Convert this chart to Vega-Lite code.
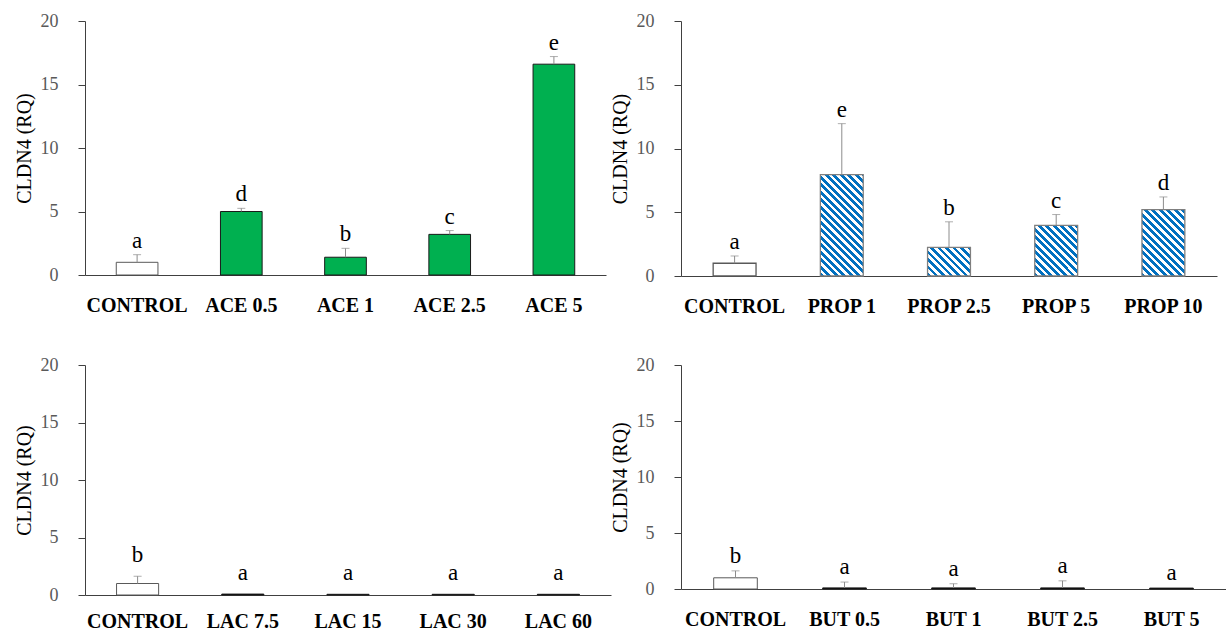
{
  "$schema": "https://vega.github.io/schema/vega-lite/v6.json",
  "padding": {"left": 14, "top": 12, "right": 0, "bottom": 0},
  "background": "#ffffff",
  "datasets": {
    "ace": [
      {"group": "CONTROL", "value": 1.0, "upper": 1.6, "letter": "a"},
      {"group": "ACE 0.5", "value": 5.0, "upper": 5.25, "letter": "d"},
      {"group": "ACE 1", "value": 1.4, "upper": 2.1, "letter": "b"},
      {"group": "ACE 2.5", "value": 3.2, "upper": 3.5, "letter": "c"},
      {"group": "ACE 5", "value": 16.6, "upper": 17.2, "letter": "e"}
    ],
    "prop": [
      {"group": "CONTROL", "value": 1.0, "upper": 1.57, "letter": "a"},
      {"group": "PROP 1", "value": 7.95, "upper": 11.95, "letter": "e"},
      {"group": "PROP 2.5", "value": 2.25, "upper": 4.25, "letter": "b"},
      {"group": "PROP 5", "value": 3.97, "upper": 4.82, "letter": "c"},
      {"group": "PROP 10", "value": 5.2, "upper": 6.2, "letter": "d"}
    ],
    "lac": [
      {"group": "CONTROL", "value": 1.0, "upper": 1.63, "letter": "b"},
      {"group": "LAC 7.5", "value": 0.08, "upper": 0.08, "letter": "a"},
      {"group": "LAC 15", "value": 0.06, "upper": 0.06, "letter": "a"},
      {"group": "LAC 30", "value": 0.06, "upper": 0.06, "letter": "a"},
      {"group": "LAC 60", "value": 0.06, "upper": 0.06, "letter": "a"}
    ],
    "but": [
      {"group": "CONTROL", "value": 1.0, "upper": 1.62, "letter": "b"},
      {"group": "BUT 0.5", "value": 0.1, "upper": 0.62, "letter": "a"},
      {"group": "BUT 1", "value": 0.1, "upper": 0.47, "letter": "a"},
      {"group": "BUT 2.5", "value": 0.1, "upper": 0.73, "letter": "a"},
      {"group": "BUT 5", "value": 0.08, "upper": 0.08, "letter": "a"}
    ]
  },
  "columns": 2,
  "align": "each",
  "bounds": "flush",
  "spacing": {"row": 89, "column": 70},
  "concat": [
    {
      "width": 521, "height": 254,
      "data": {"name": "ace"},
      "encoding": {"x": {"field": "group", "type": "nominal", "sort": null, "title": null, "scale": {"paddingInner": 0.6, "paddingOuter": 0.3}, "axis": {"labelPadding": 20}}},
      "layer": [
        {"mark": {"type": "bar", "strokeWidth": 1},
         "encoding": {
           "y": {"field": "value", "type": "quantitative", "title": "CLDN4 (RQ)", "scale": {"domain": [0, 20], "nice": false}, "axis": {"values": [0, 5, 10, 15, 20]}},
           "fill": {"condition": {"test": "datum.group === 'CONTROL'", "value": "#ffffff"}, "value": "#00b050"},
           "stroke": {"condition": {"test": "datum.group === 'CONTROL'", "value": "#595959"}, "value": "#1a1a1a"}}},
        {"transform": [{"filter": "datum.upper > datum.value"}], "mark": {"type": "rule", "color": "#8c8c8c", "strokeWidth": 1},
         "encoding": {"y": {"field": "value", "type": "quantitative", "title": "CLDN4 (RQ)"}, "y2": {"field": "upper"}}},
        {"transform": [{"filter": "datum.upper > datum.value"}], "mark": {"type": "tick", "color": "#8c8c8c", "size": 8, "thickness": 1},
         "encoding": {"y": {"field": "upper", "type": "quantitative", "title": "CLDN4 (RQ)"}}},
        {"mark": {"type": "text", "dy": -7, "baseline": "alphabetic", "fontSize": 23, "font": "Liberation Serif", "color": "#000000"},
         "encoding": {"y": {"field": "upper", "type": "quantitative", "title": "CLDN4 (RQ)"}, "text": {"field": "letter"}}}
      ]
    },
    {
      "width": 536, "height": 255,
      "data": {"name": "prop"},
      "encoding": {"x": {"field": "group", "type": "nominal", "sort": null, "title": null, "scale": {"paddingInner": 0.6, "paddingOuter": 0.3}, "axis": {"labelPadding": 20}}},
      "layer": [
        {"mark": {"type": "bar", "strokeWidth": 1.3},
         "encoding": {
           "y": {"field": "value", "type": "quantitative", "title": "CLDN4 (RQ)", "scale": {"domain": [0, 20], "nice": false}, "axis": {"values": [0, 5, 10, 15, 20]}},
           "fill": {"condition": [
             {"test": "datum.group === 'PROP 1'", "value": {"gradient": "linear", "x1": 0, "y1": 1, "x2": 0.5308, "y2": -0.2547, "stops": [{"offset":0,"color":"#0070c0"},{"offset":0.025,"color":"#0070c0"},{"offset":0.025,"color":"#ffffff"},{"offset":0.05,"color":"#ffffff"},{"offset":0.05,"color":"#0070c0"},{"offset":0.075,"color":"#0070c0"},{"offset":0.075,"color":"#ffffff"},{"offset":0.1,"color":"#ffffff"},{"offset":0.1,"color":"#0070c0"},{"offset":0.125,"color":"#0070c0"},{"offset":0.125,"color":"#ffffff"},{"offset":0.15,"color":"#ffffff"},{"offset":0.15,"color":"#0070c0"},{"offset":0.175,"color":"#0070c0"},{"offset":0.175,"color":"#ffffff"},{"offset":0.2,"color":"#ffffff"},{"offset":0.2,"color":"#0070c0"},{"offset":0.225,"color":"#0070c0"},{"offset":0.225,"color":"#ffffff"},{"offset":0.25,"color":"#ffffff"},{"offset":0.25,"color":"#0070c0"},{"offset":0.275,"color":"#0070c0"},{"offset":0.275,"color":"#ffffff"},{"offset":0.3,"color":"#ffffff"},{"offset":0.3,"color":"#0070c0"},{"offset":0.325,"color":"#0070c0"},{"offset":0.325,"color":"#ffffff"},{"offset":0.35,"color":"#ffffff"},{"offset":0.35,"color":"#0070c0"},{"offset":0.375,"color":"#0070c0"},{"offset":0.375,"color":"#ffffff"},{"offset":0.4,"color":"#ffffff"},{"offset":0.4,"color":"#0070c0"},{"offset":0.425,"color":"#0070c0"},{"offset":0.425,"color":"#ffffff"},{"offset":0.45,"color":"#ffffff"},{"offset":0.45,"color":"#0070c0"},{"offset":0.475,"color":"#0070c0"},{"offset":0.475,"color":"#ffffff"},{"offset":0.5,"color":"#ffffff"},{"offset":0.5,"color":"#0070c0"},{"offset":0.525,"color":"#0070c0"},{"offset":0.525,"color":"#ffffff"},{"offset":0.55,"color":"#ffffff"},{"offset":0.55,"color":"#0070c0"},{"offset":0.575,"color":"#0070c0"},{"offset":0.575,"color":"#ffffff"},{"offset":0.6,"color":"#ffffff"},{"offset":0.6,"color":"#0070c0"},{"offset":0.625,"color":"#0070c0"},{"offset":0.625,"color":"#ffffff"},{"offset":0.65,"color":"#ffffff"},{"offset":0.65,"color":"#0070c0"},{"offset":0.675,"color":"#0070c0"},{"offset":0.675,"color":"#ffffff"},{"offset":0.7,"color":"#ffffff"},{"offset":0.7,"color":"#0070c0"},{"offset":0.725,"color":"#0070c0"},{"offset":0.725,"color":"#ffffff"},{"offset":0.75,"color":"#ffffff"},{"offset":0.75,"color":"#0070c0"},{"offset":0.775,"color":"#0070c0"},{"offset":0.775,"color":"#ffffff"},{"offset":0.8,"color":"#ffffff"},{"offset":0.8,"color":"#0070c0"},{"offset":0.825,"color":"#0070c0"},{"offset":0.825,"color":"#ffffff"},{"offset":0.85,"color":"#ffffff"},{"offset":0.85,"color":"#0070c0"},{"offset":0.875,"color":"#0070c0"},{"offset":0.875,"color":"#ffffff"},{"offset":0.9,"color":"#ffffff"},{"offset":0.9,"color":"#0070c0"},{"offset":0.925,"color":"#0070c0"},{"offset":0.925,"color":"#ffffff"},{"offset":0.95,"color":"#ffffff"},{"offset":0.95,"color":"#0070c0"},{"offset":0.975,"color":"#0070c0"},{"offset":0.975,"color":"#ffffff"},{"offset":1,"color":"#ffffff"}]}},
             {"test": "datum.group === 'PROP 2.5'", "value": {"gradient": "linear", "x1": 0, "y1": 1, "x2": 2.4155, "y2": -0.6161, "stops": [{"offset":0,"color":"#0070c0"},{"offset":0.025,"color":"#0070c0"},{"offset":0.025,"color":"#ffffff"},{"offset":0.05,"color":"#ffffff"},{"offset":0.05,"color":"#0070c0"},{"offset":0.075,"color":"#0070c0"},{"offset":0.075,"color":"#ffffff"},{"offset":0.1,"color":"#ffffff"},{"offset":0.1,"color":"#0070c0"},{"offset":0.125,"color":"#0070c0"},{"offset":0.125,"color":"#ffffff"},{"offset":0.15,"color":"#ffffff"},{"offset":0.15,"color":"#0070c0"},{"offset":0.175,"color":"#0070c0"},{"offset":0.175,"color":"#ffffff"},{"offset":0.2,"color":"#ffffff"},{"offset":0.2,"color":"#0070c0"},{"offset":0.225,"color":"#0070c0"},{"offset":0.225,"color":"#ffffff"},{"offset":0.25,"color":"#ffffff"},{"offset":0.25,"color":"#0070c0"},{"offset":0.275,"color":"#0070c0"},{"offset":0.275,"color":"#ffffff"},{"offset":0.3,"color":"#ffffff"},{"offset":0.3,"color":"#0070c0"},{"offset":0.325,"color":"#0070c0"},{"offset":0.325,"color":"#ffffff"},{"offset":0.35,"color":"#ffffff"},{"offset":0.35,"color":"#0070c0"},{"offset":0.375,"color":"#0070c0"},{"offset":0.375,"color":"#ffffff"},{"offset":0.4,"color":"#ffffff"},{"offset":0.4,"color":"#0070c0"},{"offset":0.425,"color":"#0070c0"},{"offset":0.425,"color":"#ffffff"},{"offset":0.45,"color":"#ffffff"},{"offset":0.45,"color":"#0070c0"},{"offset":0.475,"color":"#0070c0"},{"offset":0.475,"color":"#ffffff"},{"offset":0.5,"color":"#ffffff"},{"offset":0.5,"color":"#0070c0"},{"offset":0.525,"color":"#0070c0"},{"offset":0.525,"color":"#ffffff"},{"offset":0.55,"color":"#ffffff"},{"offset":0.55,"color":"#0070c0"},{"offset":0.575,"color":"#0070c0"},{"offset":0.575,"color":"#ffffff"},{"offset":0.6,"color":"#ffffff"},{"offset":0.6,"color":"#0070c0"},{"offset":0.625,"color":"#0070c0"},{"offset":0.625,"color":"#ffffff"},{"offset":0.65,"color":"#ffffff"},{"offset":0.65,"color":"#0070c0"},{"offset":0.675,"color":"#0070c0"},{"offset":0.675,"color":"#ffffff"},{"offset":0.7,"color":"#ffffff"},{"offset":0.7,"color":"#0070c0"},{"offset":0.725,"color":"#0070c0"},{"offset":0.725,"color":"#ffffff"},{"offset":0.75,"color":"#ffffff"},{"offset":0.75,"color":"#0070c0"},{"offset":0.775,"color":"#0070c0"},{"offset":0.775,"color":"#ffffff"},{"offset":0.8,"color":"#ffffff"},{"offset":0.8,"color":"#0070c0"},{"offset":0.825,"color":"#0070c0"},{"offset":0.825,"color":"#ffffff"},{"offset":0.85,"color":"#ffffff"},{"offset":0.85,"color":"#0070c0"},{"offset":0.875,"color":"#0070c0"},{"offset":0.875,"color":"#ffffff"},{"offset":0.9,"color":"#ffffff"},{"offset":0.9,"color":"#0070c0"},{"offset":0.925,"color":"#0070c0"},{"offset":0.925,"color":"#ffffff"},{"offset":0.95,"color":"#ffffff"},{"offset":0.95,"color":"#0070c0"},{"offset":0.975,"color":"#0070c0"},{"offset":0.975,"color":"#ffffff"},{"offset":1,"color":"#ffffff"}]}},
             {"test": "datum.group === 'PROP 5'", "value": {"gradient": "linear", "x1": 0, "y1": 1, "x2": 1.4623, "y2": -0.7248, "stops": [{"offset":0,"color":"#0070c0"},{"offset":0.025,"color":"#0070c0"},{"offset":0.025,"color":"#ffffff"},{"offset":0.05,"color":"#ffffff"},{"offset":0.05,"color":"#0070c0"},{"offset":0.075,"color":"#0070c0"},{"offset":0.075,"color":"#ffffff"},{"offset":0.1,"color":"#ffffff"},{"offset":0.1,"color":"#0070c0"},{"offset":0.125,"color":"#0070c0"},{"offset":0.125,"color":"#ffffff"},{"offset":0.15,"color":"#ffffff"},{"offset":0.15,"color":"#0070c0"},{"offset":0.175,"color":"#0070c0"},{"offset":0.175,"color":"#ffffff"},{"offset":0.2,"color":"#ffffff"},{"offset":0.2,"color":"#0070c0"},{"offset":0.225,"color":"#0070c0"},{"offset":0.225,"color":"#ffffff"},{"offset":0.25,"color":"#ffffff"},{"offset":0.25,"color":"#0070c0"},{"offset":0.275,"color":"#0070c0"},{"offset":0.275,"color":"#ffffff"},{"offset":0.3,"color":"#ffffff"},{"offset":0.3,"color":"#0070c0"},{"offset":0.325,"color":"#0070c0"},{"offset":0.325,"color":"#ffffff"},{"offset":0.35,"color":"#ffffff"},{"offset":0.35,"color":"#0070c0"},{"offset":0.375,"color":"#0070c0"},{"offset":0.375,"color":"#ffffff"},{"offset":0.4,"color":"#ffffff"},{"offset":0.4,"color":"#0070c0"},{"offset":0.425,"color":"#0070c0"},{"offset":0.425,"color":"#ffffff"},{"offset":0.45,"color":"#ffffff"},{"offset":0.45,"color":"#0070c0"},{"offset":0.475,"color":"#0070c0"},{"offset":0.475,"color":"#ffffff"},{"offset":0.5,"color":"#ffffff"},{"offset":0.5,"color":"#0070c0"},{"offset":0.525,"color":"#0070c0"},{"offset":0.525,"color":"#ffffff"},{"offset":0.55,"color":"#ffffff"},{"offset":0.55,"color":"#0070c0"},{"offset":0.575,"color":"#0070c0"},{"offset":0.575,"color":"#ffffff"},{"offset":0.6,"color":"#ffffff"},{"offset":0.6,"color":"#0070c0"},{"offset":0.625,"color":"#0070c0"},{"offset":0.625,"color":"#ffffff"},{"offset":0.65,"color":"#ffffff"},{"offset":0.65,"color":"#0070c0"},{"offset":0.675,"color":"#0070c0"},{"offset":0.675,"color":"#ffffff"},{"offset":0.7,"color":"#ffffff"},{"offset":0.7,"color":"#0070c0"},{"offset":0.725,"color":"#0070c0"},{"offset":0.725,"color":"#ffffff"},{"offset":0.75,"color":"#ffffff"},{"offset":0.75,"color":"#0070c0"},{"offset":0.775,"color":"#0070c0"},{"offset":0.775,"color":"#ffffff"},{"offset":0.8,"color":"#ffffff"},{"offset":0.8,"color":"#0070c0"},{"offset":0.825,"color":"#0070c0"},{"offset":0.825,"color":"#ffffff"},{"offset":0.85,"color":"#ffffff"},{"offset":0.85,"color":"#0070c0"},{"offset":0.875,"color":"#0070c0"},{"offset":0.875,"color":"#ffffff"},{"offset":0.9,"color":"#ffffff"},{"offset":0.9,"color":"#0070c0"},{"offset":0.925,"color":"#0070c0"},{"offset":0.925,"color":"#ffffff"},{"offset":0.95,"color":"#ffffff"},{"offset":0.95,"color":"#0070c0"},{"offset":0.975,"color":"#0070c0"},{"offset":0.975,"color":"#ffffff"},{"offset":1,"color":"#ffffff"}]}},
             {"test": "datum.group === 'PROP 10'", "value": {"gradient": "linear", "x1": 0, "y1": 1, "x2": 1.0319, "y2": -0.5948, "stops": [{"offset":0,"color":"#0070c0"},{"offset":0.025,"color":"#0070c0"},{"offset":0.025,"color":"#ffffff"},{"offset":0.05,"color":"#ffffff"},{"offset":0.05,"color":"#0070c0"},{"offset":0.075,"color":"#0070c0"},{"offset":0.075,"color":"#ffffff"},{"offset":0.1,"color":"#ffffff"},{"offset":0.1,"color":"#0070c0"},{"offset":0.125,"color":"#0070c0"},{"offset":0.125,"color":"#ffffff"},{"offset":0.15,"color":"#ffffff"},{"offset":0.15,"color":"#0070c0"},{"offset":0.175,"color":"#0070c0"},{"offset":0.175,"color":"#ffffff"},{"offset":0.2,"color":"#ffffff"},{"offset":0.2,"color":"#0070c0"},{"offset":0.225,"color":"#0070c0"},{"offset":0.225,"color":"#ffffff"},{"offset":0.25,"color":"#ffffff"},{"offset":0.25,"color":"#0070c0"},{"offset":0.275,"color":"#0070c0"},{"offset":0.275,"color":"#ffffff"},{"offset":0.3,"color":"#ffffff"},{"offset":0.3,"color":"#0070c0"},{"offset":0.325,"color":"#0070c0"},{"offset":0.325,"color":"#ffffff"},{"offset":0.35,"color":"#ffffff"},{"offset":0.35,"color":"#0070c0"},{"offset":0.375,"color":"#0070c0"},{"offset":0.375,"color":"#ffffff"},{"offset":0.4,"color":"#ffffff"},{"offset":0.4,"color":"#0070c0"},{"offset":0.425,"color":"#0070c0"},{"offset":0.425,"color":"#ffffff"},{"offset":0.45,"color":"#ffffff"},{"offset":0.45,"color":"#0070c0"},{"offset":0.475,"color":"#0070c0"},{"offset":0.475,"color":"#ffffff"},{"offset":0.5,"color":"#ffffff"},{"offset":0.5,"color":"#0070c0"},{"offset":0.525,"color":"#0070c0"},{"offset":0.525,"color":"#ffffff"},{"offset":0.55,"color":"#ffffff"},{"offset":0.55,"color":"#0070c0"},{"offset":0.575,"color":"#0070c0"},{"offset":0.575,"color":"#ffffff"},{"offset":0.6,"color":"#ffffff"},{"offset":0.6,"color":"#0070c0"},{"offset":0.625,"color":"#0070c0"},{"offset":0.625,"color":"#ffffff"},{"offset":0.65,"color":"#ffffff"},{"offset":0.65,"color":"#0070c0"},{"offset":0.675,"color":"#0070c0"},{"offset":0.675,"color":"#ffffff"},{"offset":0.7,"color":"#ffffff"},{"offset":0.7,"color":"#0070c0"},{"offset":0.725,"color":"#0070c0"},{"offset":0.725,"color":"#ffffff"},{"offset":0.75,"color":"#ffffff"},{"offset":0.75,"color":"#0070c0"},{"offset":0.775,"color":"#0070c0"},{"offset":0.775,"color":"#ffffff"},{"offset":0.8,"color":"#ffffff"},{"offset":0.8,"color":"#0070c0"},{"offset":0.825,"color":"#0070c0"},{"offset":0.825,"color":"#ffffff"},{"offset":0.85,"color":"#ffffff"},{"offset":0.85,"color":"#0070c0"},{"offset":0.875,"color":"#0070c0"},{"offset":0.875,"color":"#ffffff"},{"offset":0.9,"color":"#ffffff"},{"offset":0.9,"color":"#0070c0"},{"offset":0.925,"color":"#0070c0"},{"offset":0.925,"color":"#ffffff"},{"offset":0.95,"color":"#ffffff"},{"offset":0.95,"color":"#0070c0"},{"offset":0.975,"color":"#0070c0"},{"offset":0.975,"color":"#ffffff"},{"offset":1,"color":"#ffffff"}]}}
           ], "value": "#ffffff"},
           "stroke": {"condition": {"test": "datum.group === 'CONTROL'", "value": "#595959"}, "value": "#7f7f7f"}}},
        {"transform": [{"filter": "datum.upper > datum.value"}], "mark": {"type": "rule", "color": "#8c8c8c", "strokeWidth": 1},
         "encoding": {"y": {"field": "value", "type": "quantitative", "title": "CLDN4 (RQ)"}, "y2": {"field": "upper"}}},
        {"transform": [{"filter": "datum.upper > datum.value"}], "mark": {"type": "tick", "color": "#8c8c8c", "size": 8, "thickness": 1},
         "encoding": {"y": {"field": "upper", "type": "quantitative", "title": "CLDN4 (RQ)"}}},
        {"mark": {"type": "text", "dy": -7, "baseline": "alphabetic", "fontSize": 23, "font": "Liberation Serif", "color": "#000000"},
         "encoding": {"y": {"field": "upper", "type": "quantitative", "title": "CLDN4 (RQ)"}, "text": {"field": "letter"}}}
      ]
    },
    {
      "width": 526, "height": 230,
      "data": {"name": "lac"},
      "encoding": {"x": {"field": "group", "type": "nominal", "sort": null, "title": null, "scale": {"paddingInner": 0.6, "paddingOuter": 0.3}, "axis": {"labelPadding": 16}}},
      "layer": [
        {"mark": {"type": "bar", "strokeWidth": 1},
         "encoding": {
           "y": {"field": "value", "type": "quantitative", "title": "CLDN4 (RQ)", "scale": {"domain": [0, 20], "nice": false}, "axis": {"values": [0, 5, 10, 15, 20]}},
           "fill": {"condition": {"test": "datum.group === 'CONTROL'", "value": "#ffffff"}, "value": "#000000"},
           "stroke": {"condition": {"test": "datum.group === 'CONTROL'", "value": "#595959"}, "value": "#1a1a1a"}}},
        {"transform": [{"filter": "datum.upper > datum.value"}], "mark": {"type": "rule", "color": "#8c8c8c", "strokeWidth": 1},
         "encoding": {"y": {"field": "value", "type": "quantitative", "title": "CLDN4 (RQ)"}, "y2": {"field": "upper"}}},
        {"transform": [{"filter": "datum.upper > datum.value"}], "mark": {"type": "tick", "color": "#8c8c8c", "size": 8, "thickness": 1},
         "encoding": {"y": {"field": "upper", "type": "quantitative", "title": "CLDN4 (RQ)"}}},
        {"mark": {"type": "text", "dy": -14, "baseline": "alphabetic", "fontSize": 23, "font": "Liberation Serif", "color": "#000000"},
         "encoding": {"y": {"field": "upper", "type": "quantitative", "title": "CLDN4 (RQ)"}, "text": {"field": "letter"}}}
      ]
    },
    {
      "width": 545, "height": 224,
      "data": {"name": "but"},
      "encoding": {"x": {"field": "group", "type": "nominal", "sort": null, "title": null, "scale": {"paddingInner": 0.6, "paddingOuter": 0.3}, "axis": {"labelPadding": 20}}},
      "layer": [
        {"mark": {"type": "bar", "strokeWidth": 1},
         "encoding": {
           "y": {"field": "value", "type": "quantitative", "title": "CLDN4 (RQ)", "scale": {"domain": [0, 20], "nice": false}, "axis": {"values": [0, 5, 10, 15, 20]}},
           "fill": {"condition": {"test": "datum.group === 'CONTROL'", "value": "#ffffff"}, "value": "#000000"},
           "stroke": {"condition": {"test": "datum.group === 'CONTROL'", "value": "#595959"}, "value": "#1a1a1a"}}},
        {"transform": [{"filter": "datum.upper > datum.value"}], "mark": {"type": "rule", "color": "#8c8c8c", "strokeWidth": 1},
         "encoding": {"y": {"field": "value", "type": "quantitative", "title": "CLDN4 (RQ)"}, "y2": {"field": "upper"}}},
        {"transform": [{"filter": "datum.upper > datum.value"}], "mark": {"type": "tick", "color": "#8c8c8c", "size": 8, "thickness": 1},
         "encoding": {"y": {"field": "upper", "type": "quantitative", "title": "CLDN4 (RQ)"}}},
        {"mark": {"type": "text", "dy": -8, "baseline": "alphabetic", "fontSize": 23, "font": "Liberation Serif", "color": "#000000"},
         "encoding": {"y": {"field": "upper", "type": "quantitative", "title": "CLDN4 (RQ)"}, "text": {"field": "letter"}}}
      ]
    }
  ],
  "config": {
    "view": {"stroke": null},
    "font": "Liberation Serif",
    "axis": {"grid": false},
    "axisX": {"domainColor": "#404040", "domainWidth": 1, "ticks": false, "labelFont": "Liberation Serif", "labelFontWeight": "bold", "labelFontSize": 20, "labelColor": "#000000", "labelAngle": 0, "labelOverlap": false},
    "axisY": {"domainColor": "#404040", "tickColor": "#404040", "tickSize": 7, "labelColor": "#595959", "labelFont": "Liberation Serif", "labelFontSize": 18, "labelPadding": 20, "titleFont": "Liberation Serif", "titleFontSize": 20, "titleFontWeight": "normal", "titleColor": "#000000", "titlePadding": 6}
  }
}
